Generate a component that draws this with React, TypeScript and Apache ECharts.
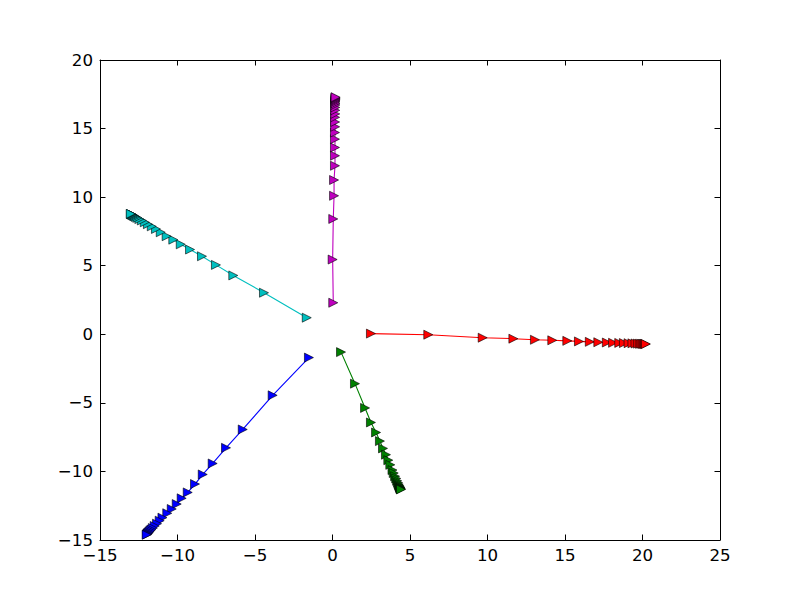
import React, { useEffect, useRef } from "react";
import * as echarts from "echarts";

const xTicks = [-15, -10, -5, 0, 5, 10, 15, 20, 25];
const yTicks = [-15, -10, -5, 0, 5, 10, 15, 20];

const redX = [2.48, 6.18, 9.69, 11.67, 13.06, 14.18, 15.15, 15.9, 16.6, 17.15, 17.7, 18.1, 18.5, 18.8, 19.1, 19.35, 19.55, 19.7, 19.82, 19.92, 20.0, 20.07, 20.13, 20.18, 20.22];
const redY = [0.05, -0.03, -0.25, -0.32, -0.4, -0.44, -0.48, -0.52, -0.55, -0.58, -0.6, -0.62, -0.63, -0.64, -0.65, -0.66, -0.67, -0.68, -0.69, -0.69, -0.7, -0.7, -0.7, -0.71, -0.71];

const greenX = [0.55, 1.45, 2.1, 2.48, 2.81, 3.06, 3.26, 3.45, 3.6, 3.73, 3.87, 3.95, 4.04, 4.11, 4.17, 4.23, 4.27, 4.3, 4.33, 4.35, 4.37, 4.38, 4.4, 4.41, 4.42];
const greenY = [-1.3, -3.6, -5.37, -6.43, -7.16, -7.79, -8.32, -8.78, -9.18, -9.52, -9.9, -10.12, -10.35, -10.51, -10.68, -10.82, -10.93, -11.02, -11.08, -11.14, -11.18, -11.22, -11.26, -11.29, -11.31];

const blueX = [-1.52, -3.86, -5.79, -6.87, -7.73, -8.37, -8.87, -9.34, -9.73, -10.05, -10.37, -10.66, -10.97, -11.15, -11.32, -11.47, -11.59, -11.68, -11.75, -11.81, -11.86, -11.9, -11.93, -11.96, -11.99];
const blueY = [-1.7, -4.45, -6.94, -8.28, -9.42, -10.22, -10.92, -11.53, -11.96, -12.38, -12.74, -13.05, -13.37, -13.59, -13.81, -13.98, -14.13, -14.24, -14.32, -14.4, -14.46, -14.51, -14.55, -14.59, -14.62];

const cyanX = [-1.66, -4.42, -6.4, -7.52, -8.42, -9.19, -9.79, -10.27, -10.7, -11.08, -11.39, -11.66, -11.91, -12.11, -12.3, -12.46, -12.59, -12.69, -12.77, -12.83, -12.88, -12.92, -12.97, -13.0, -13.02];
const cyanY = [1.21, 3.03, 4.29, 5.06, 5.69, 6.18, 6.56, 6.9, 7.15, 7.44, 7.68, 7.87, 8.03, 8.17, 8.3, 8.4, 8.49, 8.56, 8.61, 8.65, 8.69, 8.72, 8.74, 8.77, 8.78];

const magentaX = [0.05, 0.01, 0.05, 0.1, 0.1, 0.16, 0.16, 0.16, 0.16, 0.16, 0.17, 0.17, 0.17, 0.18, 0.18, 0.18, 0.19, 0.19, 0.19, 0.19, 0.2, 0.2, 0.2, 0.2, 0.2];
const magentaY = [2.3, 5.45, 8.41, 10.1, 11.25, 12.29, 13.02, 13.62, 14.23, 14.71, 15.13, 15.48, 15.82, 16.07, 16.33, 16.54, 16.72, 16.84, 16.95, 17.03, 17.1, 17.16, 17.21, 17.25, 17.29];

const seriesDefs = [
  { name: "blue", color: "#0000ff", xs: blueX, ys: blueY },
  { name: "green", color: "#008000", xs: greenX, ys: greenY },
  { name: "red", color: "#ff0000", xs: redX, ys: redY },
  { name: "cyan", color: "#00bfbf", xs: cyanX, ys: cyanY },
  { name: "magenta", color: "#bf00bf", xs: magentaX, ys: magentaY },
];

const fmt = (v: number) => String(v).replace("-", "\u2212");

export default function App() {
  const ref = useRef<HTMLDivElement>(null);
  useEffect(() => {
    if (!ref.current) return;
    const chart = echarts.init(ref.current, undefined, { renderer: "svg" });
    const font = { fontFamily: "DejaVu Sans", fontSize: 16.67, color: "#000" };
    const axisCommon = {
      type: "value" as const,
      axisLine: { show: true, onZero: false, lineStyle: { color: "#000", width: 1 } },
      axisTick: { show: true, inside: true, length: 5.5, lineStyle: { color: "#000", width: 1 } },
      splitLine: { show: false },
    };
    chart.setOption({
      animation: false,
      textStyle: { fontFamily: "DejaVu Sans" },
      grid: { left: 100, right: 80, top: 60, bottom: 60, containLabel: false },
      xAxis: [
        {
          ...axisCommon,
          position: "bottom",
          min: xTicks[0],
          max: xTicks[xTicks.length - 1],
          interval: 5,
          axisLabel: { ...font, margin: 7, formatter: fmt, showMinLabel: true, showMaxLabel: true },
        },
        {
          ...axisCommon,
          position: "top",
          min: xTicks[0],
          max: xTicks[xTicks.length - 1],
          interval: 5,
          axisLabel: { show: false },
        },
      ],
      yAxis: [
        {
          ...axisCommon,
          position: "left",
          min: yTicks[0],
          max: yTicks[yTicks.length - 1],
          interval: 5,
          axisLabel: { ...font, margin: 7, formatter: fmt, showMinLabel: true, showMaxLabel: true },
        },
        {
          ...axisCommon,
          position: "right",
          min: yTicks[0],
          max: yTicks[yTicks.length - 1],
          interval: 5,
          axisLabel: { show: false },
        },
      ],
      series: seriesDefs.map((s) => ({
        type: "line",
        name: s.name,
        xAxisIndex: 0,
        yAxisIndex: 0,
        data: s.xs.map((x, i) => [x, s.ys[i]]),
        showSymbol: true,
        showAllSymbol: true,
        symbol: "triangle",
        symbolSize: 9,
        symbolRotate: -90,
        lineStyle: { color: s.color, width: 1.1 },
        itemStyle: { color: s.color, borderColor: "#000", borderWidth: 0.6 },
        emphasis: { disabled: true },
        clip: false,
      })),
    });
    return () => chart.dispose();
  }, []);
  return (
    <div
      ref={ref}
      style={{ position: "fixed", left: 0, top: 0, width: 800, height: 600, background: "#fff" }}
    />
  );
}
